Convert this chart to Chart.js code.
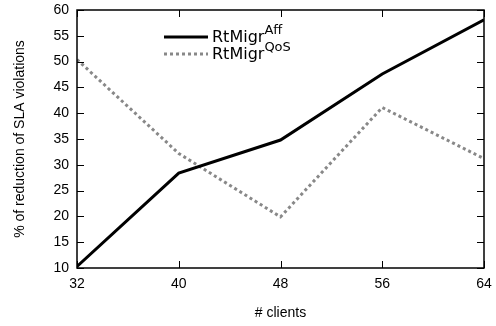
<!DOCTYPE html>
<html>
<head>
<meta charset="UTF-8">
<title>SLA violations</title>
<style>
    html, body { margin: 0; padding: 0; background: #fff; }
    .chart-con { width: 496px; height: 326px; }
</style>
</head>
<body>
<div class="chart-con">
    <canvas id="line" width="496" height="326"></canvas>
</div>
<script src="https://cdn.jsdelivr.net/npm/chart.js"></script>
<script>
    // data
    const clients = [32, 40, 48, 56, 64];
    const affData = [10.3, 28.4, 34.8, 47.6, 58.1];
    const qosData = [50.4, 32.2, 19.9, 41.1, 31.2];
    const yTicks = [10, 15, 20, 25, 30, 35, 40, 45, 50, 55, 60];

    const toPoints = (ys) => clients.map((c, i) => ({ x: c, y: ys[i] }));
    const axisFont = { size: 14, family: '"Liberation Sans", Arial, sans-serif' };

    // frame, inward ticks and the legend with superscripts
    const framePlugin = {
        id: 'frame',
        afterDatasetsDraw(chart) {
            const { ctx, chartArea: a, scales } = chart;
            ctx.save();
            ctx.strokeStyle = '#000';
            ctx.lineWidth = 1.5;
            ctx.strokeRect(a.left, a.top, a.right - a.left, a.bottom - a.top);
            ctx.lineWidth = 1;
            ctx.beginPath();
            yTicks.forEach(v => {
                const y = Math.round(scales.y.getPixelForValue(v)) + 0.5;
                ctx.moveTo(a.left, y); ctx.lineTo(a.left + 7, y);
                ctx.moveTo(a.right, y); ctx.lineTo(a.right - 7, y);
            });
            clients.forEach(v => {
                const x = Math.round(scales.x.getPixelForValue(v)) + 0.5;
                ctx.moveTo(x, a.bottom); ctx.lineTo(x, a.bottom - 7);
                ctx.moveTo(x, a.top); ctx.lineTo(x, a.top + 7);
            });
            ctx.stroke();

            // legend
            const items = [
                { sup: 'Aff', color: '#000', dash: [], y: 37, base: 42 },
                { sup: 'QoS', color: '#888', dash: [3, 3], y: 54, base: 59 }
            ];
            items.forEach(it => {
                ctx.beginPath();
                ctx.strokeStyle = it.color;
                ctx.lineWidth = 3;
                ctx.setLineDash(it.dash);
                ctx.moveTo(164, it.y);
                ctx.lineTo(208, it.y);
                ctx.stroke();
                ctx.setLineDash([]);
                ctx.fillStyle = '#000';
                ctx.textBaseline = 'alphabetic';
                ctx.font = '16px "DejaVu Sans"';
                ctx.fillText('RtMigr', 212, it.base);
                const w = ctx.measureText('RtMigr').width;
                ctx.font = '13px "DejaVu Sans"';
                ctx.fillText(it.sup, 212 + w, it.base - 8);
            });
            ctx.restore();
        }
    };

    const el = document.getElementById('line');
    new Chart(el, {
        type: 'line',
        data: {
            datasets: [
                {
                    label: 'RtMigrAff',
                    data: toPoints(affData),
                    borderColor: '#000',
                    borderWidth: 3,
                    pointRadius: 0,
                    tension: 0
                },
                {
                    label: 'RtMigrQoS',
                    data: toPoints(qosData),
                    borderColor: '#888',
                    borderWidth: 3,
                    borderDash: [3, 3],
                    pointRadius: 0,
                    tension: 0
                }
            ]
        },
        options: {
            responsive: false,
            animation: false,
            layout: {
                padding: { left: 0, top: 10, right: 12, bottom: 0 }
            },
            plugins: {
                legend: { display: false },
                tooltip: { enabled: false }
            },
            scales: {
                x: {
                    type: 'linear',
                    min: 32,
                    max: 64,
                    grid: { display: false, drawTicks: false },
                    border: { display: false },
                    afterBuildTicks: (s) => { s.ticks = clients.map(v => ({ value: v })); },
                    afterFit: (s) => {
                        s.height = 58;
                        s.paddingLeft = 0;
                        s.paddingRight = 0;
                    },
                    ticks: {
                        color: '#000',
                        padding: 8,
                        font: axisFont
                    },
                    title: {
                        display: true,
                        text: '# clients',
                        color: '#000',
                        padding: { top: 4, bottom: 4 },
                        font: axisFont
                    }
                },
                y: {
                    min: 10,
                    max: 60,
                    grid: { display: false, drawTicks: false },
                    border: { display: false },
                    afterBuildTicks: (s) => { s.ticks = yTicks.map(v => ({ value: v })); },
                    afterFit: (s) => {
                        s.width = 77;
                        s.paddingTop = 0;
                        s.paddingBottom = 0;
                    },
                    ticks: {
                        color: '#000',
                        padding: 8,
                        font: axisFont
                    },
                    title: {
                        display: true,
                        text: '% of reduction of SLA violations',
                        color: '#000',
                        padding: { top: 12, bottom: 4 },
                        font: axisFont
                    }
                }
            }
        },
        plugins: [framePlugin]
    });
</script>
</body>
</html>
